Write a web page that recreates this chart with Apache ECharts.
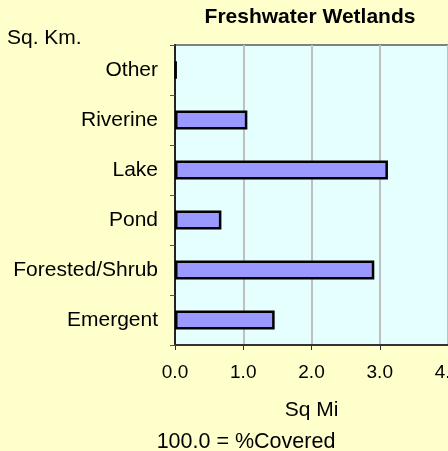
<!DOCTYPE html>
<html>
<head>
<meta charset="utf-8">
<script src="https://cdn.jsdelivr.net/npm/echarts@6/dist/echarts.min.js"></script>
<style>
  html, body { margin: 0; padding: 0; background: #FFFFCC; }
  #chart { width: 448px; height: 451px; }
</style>
</head>
<body>
<div id="chart"></div>
<script>
// top to bottom, as in the picture
const categories = ['Other', 'Riverine', 'Lake', 'Pond', 'Forested/Shrub', 'Emergent']
const sqMi = [0.02, 1.06, 3.12, 0.68, 2.92, 1.46]
const xTicks = [0, 1, 2, 3, 4]

const FONT = '"Liberation Sans", Arial, sans-serif'

const chart = echarts.init(document.getElementById('chart'))
chart.setOption({
  backgroundColor: '#FFFFCC',
  animation: false,
  textStyle: { fontFamily: FONT, color: '#000' },
  title: [
    {
      text: 'Freshwater Wetlands',
      left: 310,
      top: 7,
      padding: 0,
      textAlign: 'center',
      textStyle: { fontFamily: FONT, fontSize: 21, fontWeight: 'bold', color: '#000' }
    },
    {
      text: 'Sq. Km.',
      left: 7,
      top: 28,
      padding: 0,
      textStyle: { fontFamily: FONT, fontSize: 21, fontWeight: 'normal', color: '#000' }
    },
    {
      text: '100.0 = %Covered',
      left: 246,
      top: 431,
      padding: 0,
      textAlign: 'center',
      textStyle: { fontFamily: FONT, fontSize: 21.5, fontWeight: 'normal', color: '#000' }
    }
  ],
  grid: {
    left: 175,
    top: 45,
    right: 0,
    bottom: 106,
    outerBoundsMode: 'none',
    containLabel: false,
    show: true,
    backgroundColor: '#E5FFFF',
    borderColor: '#808080',
    borderWidth: 2
  },
  xAxis: {
    type: 'value',
    min: xTicks[0],
    max: xTicks[xTicks.length - 1],
    interval: 1,
    name: 'Sq Mi',
    nameLocation: 'middle',
    nameGap: 55,
    nameTextStyle: { fontFamily: FONT, fontSize: 21, color: '#000' },
    axisLine: { show: true, lineStyle: { color: '#333', width: 2 } },
    axisTick: { show: true, length: 5, lineStyle: { color: '#333', width: 1 } },
    axisLabel: {
      margin: 18,
      fontFamily: FONT,
      fontSize: 19,
      color: '#000',
      formatter: v => v.toFixed(1)
    },
    splitLine: { show: true, lineStyle: { color: '#C0C0C0', width: 2 } }
  },
  yAxis: {
    type: 'category',
    data: categories,
    inverse: true,
    axisLine: { show: true, lineStyle: { color: '#222', width: 2 } },
    axisTick: { show: true, length: 5, lineStyle: { color: '#555', width: 1 } },
    axisLabel: { margin: 17, fontFamily: FONT, fontSize: 21, color: '#000' },
    splitLine: { show: false }
  },
  series: [
    {
      type: 'bar',
      data: sqMi,
      barWidth: 19,
      itemStyle: { color: '#9999FF', borderColor: '#000', borderWidth: 2.5 }
    }
  ]
})
</script>
</body>
</html>
